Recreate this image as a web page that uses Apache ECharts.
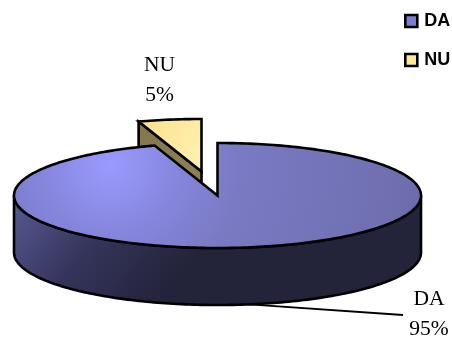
<!DOCTYPE html>
<html>
<head>
<meta charset="utf-8">
<style>html,body{margin:0;padding:0;background:#fff}#chart{width:452px;height:338px}</style>
<script src="https://cdn.jsdelivr.net/npm/echarts@6/dist/echarts.min.js"></script>
</head>
<body>
<div id="chart"></div>
<script>
const categories = ['DA', 'NU'];
const values = [95, 5];
const percentLabels = ['95%', '5%'];

// Projected disc geometry
const CX = 217.5, CY = 195.5, RX = 203.5, RY = 52.5, DEPTH = 57;
const EXPLODE = { DA: [0, 0], NU: [-16, -24] };
const LABEL_POS = { DA: [429, 299], NU: [159.5, 65] };
const LABEL_STEP = 30.5;
const LEADER_END = [403, 315];
const STROKE = { stroke: '#000', lineWidth: 2.6, lineJoin: 'miter' };
const grad = (x, y, x2, y2, a, b, m) => ({
  type: 'linear', x, y, x2, y2,
  colorStops: m ? [{offset:0,color:a},{offset:.5,color:m},{offset:1,color:b}] : [{offset:0,color:a},{offset:1,color:b}]
});
const FILLS = {
  DA: {
    // Soft highlight on the upper left of the disc
    top: { type: 'radial', x: 110, y: 165, r: 320, global: true, colorStops: [
      { offset: 0, color: '#9a9aff' }, { offset: 0.22, color: '#8585dc' },
      { offset: 0.4, color: '#7a7ac4' }, { offset: 1, color: '#6c6cac' }
    ] },
    side: grad(0, 0, 0.35, 1, '#5a5a96', '#23233a', '#35355c')
  },
  NU: {
    top: grad(0, 0, 1, 1, '#ffdf8c', '#fff4b4'),
    side: grad(0, 0, 1, 1, '#85744a', '#8f8a60')
  }
};

const total = values.reduce((s, v) => s + v, 0);
function sliceAngles(i) {
  // Angles run clockwise from twelve o'clock, in fractions of a full turn
  const before = values.slice(0, i).reduce((s, v) => s + v, 0);
  return [before / total * 2 * Math.PI, (before + values[i]) / total * 2 * Math.PI];
}
function rimPoint(a, ox, oy, dy) {
  return [CX + ox + RX * Math.sin(a), CY + oy + dy - RY * Math.cos(a)];
}
function arc(a0, a1, ox, oy, dy) {
  const n = Math.max(2, Math.ceil(Math.abs(a1 - a0) / 0.02));
  const pts = [];
  for (let k = 0; k <= n; k++) pts.push(rimPoint(a0 + (a1 - a0) * k / n, ox, oy, dy));
  return pts;
}

function renderSlice(params, api) {
  const i = params.dataIndex;
  const name = categories[i];
  const [ox, oy] = EXPLODE[name];
  const [a0, a1] = sliceAngles(i);
  const apex = [CX + ox, CY + oy];
  const children = [];

  // Cut wall of the slice, facing the viewer on its trailing side
  if (name === 'NU') {
    const e = rimPoint(a0, ox, oy, 0);
    children.push({ type: 'polygon',
      shape: { points: [e, apex, [apex[0], apex[1] + DEPTH], [e[0], e[1] + DEPTH]] },
      style: { fill: FILLS.NU.side, ...STROKE } });
  }
  // Outer wall: only the front half of the rim can be seen
  if (name === 'DA') {
    const s0 = Math.PI / 2, s1 = 3 * Math.PI / 2;
    const pts = arc(s0, s1, ox, oy, 0).concat(arc(s1, s0, ox, oy, DEPTH));
    children.push({ type: 'polygon', shape: { points: pts }, style: { fill: FILLS.DA.side, ...STROKE } });
    // Leader line starts at the lower rim, below the middle of the slice
    const mid = rimPoint((a0 + a1) / 2, ox, oy, DEPTH);
    children.push({ type: 'polyline', shape: { points: [mid, LEADER_END] },
      style: { stroke: '#000', lineWidth: 1.8, fill: null } });
  }
  // Top face
  children.push({ type: 'polygon',
    shape: { points: [apex].concat(arc(a0, a1, ox, oy, 0)) },
    style: { fill: FILLS[name].top, ...STROKE } });
  // Category and percentage labels
  const [lx, ly] = LABEL_POS[name];
  [name, percentLabels[i]].forEach((t, k) => children.push({
    type: 'text',
    style: { x: lx, y: ly + k * LABEL_STEP, text: t, align: 'center', verticalAlign: 'middle',
      fill: '#000', font: '21.5px "Liberation Serif"' }
  }));
  return { type: 'group', children };
}

const chart = echarts.init(document.getElementById('chart'), null, { renderer: 'canvas' });
// NU is drawn first so the large slice overlaps its lower wall
const series = [1, 0].map(i => ({
  type: 'custom',
  name: categories[i],
  coordinateSystem: 'none',
  silent: true,
  animation: false,
  renderItem: (params, api) => renderSlice({ ...params, dataIndex: i }, api),
  data: [values[i]],
  itemStyle: { color: i === 0 ? '#7c7cd0' : '#ffe89a' }
}));
chart.setOption({
  animation: false,
  legend: {
    orient: 'vertical', left: 399, top: 7, itemGap: 21, itemWidth: 12, itemHeight: 12,
    selectedMode: false,
    data: categories.map((c, i) => ({
      name: c, icon: 'rect',
      itemStyle: { color: i === 0 ? '#7c7cd0' : '#ffe89a', borderColor: '#000', borderWidth: 2.6 }
    })),
    textStyle: { fontFamily: '"Liberation Sans"', fontWeight: 'bold', fontSize: 18, color: '#000', padding: [0, 0, 0, 2] }
  },
  series
});
</script>
</body>
</html>
